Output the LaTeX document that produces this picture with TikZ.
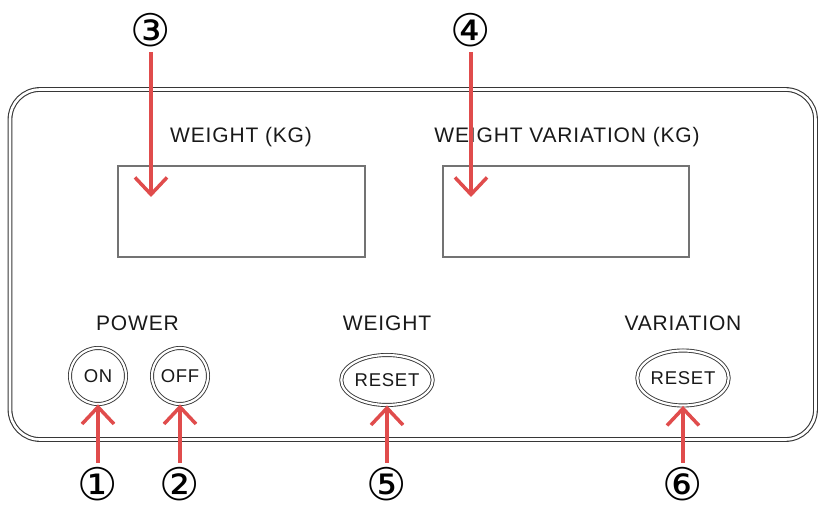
\documentclass[tikz,border=0pt]{standalone}
\usepackage{fontspec}
\usepackage{xcolor}
\setmainfont{Liberation Sans}[LetterSpace=4]
\newfontfamily\circfont{DejaVu Sans}
\usetikzlibrary{shapes.geometric,arrows.meta}

\definecolor{pointred}{RGB}{224,76,76}
\definecolor{edgegray}{RGB}{55,55,55}

\tikzset{
    panel/.style={draw=edgegray, line width=1.1pt, double, double distance=2.6pt, rounded corners=30pt},
    display/.style={draw=black!55, line width=1.2pt, inner sep=0pt},
    button/.style={circle, draw=edgegray, line width=0.9pt, double, double distance=2.2pt,
        minimum size=56pt, inner sep=0pt, text=black!90, font=\fontsize{18.5}{18}\selectfont},
    resetbutton/.style={button, ellipse, minimum width=84pt, minimum height=50pt},
    caption/.style={font=\fontsize{21}{22}\selectfont, text=black!90},
    num/.style={font=\circfont\fontsize{45}{45}\selectfont, inner sep=0pt},
    pointer/.style={draw=pointred, line width=3.5pt, -{Straight Barb[length=17pt,width=32pt]}}
}

\begin{document}
\begin{tikzpicture}[x=1pt, y=-1pt]
            \useasboundingbox (0,0) rectangle (819,510);

            \draw[panel] (10,89.5) rectangle (815.5,439.5);

            \node[caption] (wcap) at (241,137) {WEIGHT (KG)};
            \node[caption] (vcap) at (567,137) {WEIGHT VARIATION (KG)};
            \node[display, minimum width=247pt, minimum height=91pt] (wdisp) at (241.5,211.5) {};
            \node[display, minimum width=246pt, minimum height=91pt] (vdisp) at (566,211.5) {};

            \node[caption] (pcap) at (137.5,323) {POWER};
            \node[caption] (rcap) at (387,323) {WEIGHT};
            \node[caption] (ccap) at (683,323) {VARIATION};

            \node[button] (on) at (98,376) {ON};
            \node[button] (off) at (180,376) {OFF};
            \node[resetbutton] (wreset) at (387,380) {RESET};
            \node[resetbutton, minimum width=88pt, minimum height=55pt] (vreset) at (683,378) {RESET};

            \node[num] (n3) at (151,30) {③};
            \node[num] (n4) at (471,30) {④};
            \node[num] (n1) at (98,484) {①};
            \node[num] (n2) at (180,484) {②};
            \node[num] (n5) at (387,484) {⑤};
            \node[num] (n6) at (683,484) {⑥};

            \coordinate (t3) at (151,197);
            \coordinate (t4) at (471,197);

            \draw[pointer, shorten <=5pt] (n3) -- (t3);
            \draw[pointer, shorten <=5pt] (n4) -- (t4);
            \draw[pointer, shorten <=4pt] (n1) -- (on);
            \draw[pointer, shorten <=4pt] (n2) -- (off);
            \draw[pointer, shorten <=4pt] (n5) -- (wreset);
            \draw[pointer, shorten <=4pt] (n6) -- (vreset);
        \end{tikzpicture}
\end{document}
